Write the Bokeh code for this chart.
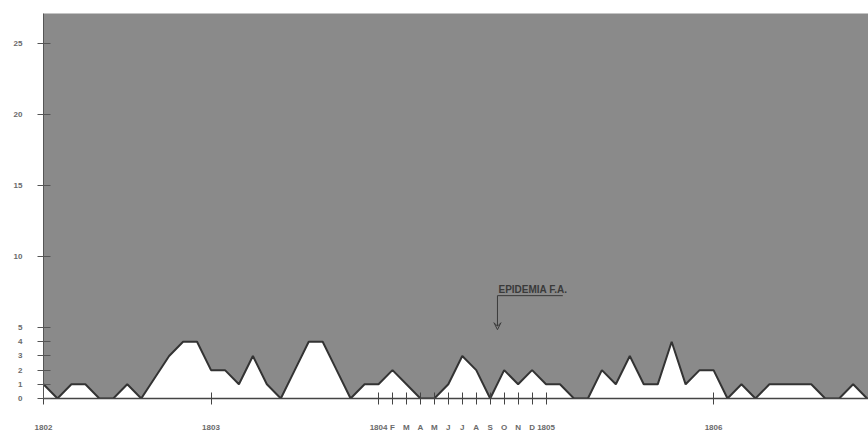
from bokeh.plotting import figure
from bokeh.models import Range1d, FixedTicker, Label, Arrow, VeeHead, ColumnDataSource
from bokeh.embed import file_html
from bokeh.resources import INLINE

# ---- data: monthly counts, Jan 1802 .. Dec 1806 ----
cases_1802 = [1, 0, 1, 1, 0, 0, 1, 0, 1.5, 3, 4, 4]
cases_1803 = [2, 2, 1, 3, 1, 0, 2, 4, 4, 2, 0, 1]
cases_1804 = [1, 2, 1, 0, 0, 1, 3, 2, 0, 2, 1, 2]
cases_1805 = [1, 1, 0, 0, 2, 1, 3, 1, 1, 4, 1, 2]
cases_1806 = [2, 0, 1, 0, 1, 1, 1, 1, 0, 0, 1, 0]
cases = cases_1802 + cases_1803 + cases_1804 + cases_1805 + cases_1806
months = list(range(len(cases)))

x_ticks = [0, 12, 24, 25, 26, 27, 28, 29, 30, 31, 32, 33, 34, 35, 36, 48]
x_tick_labels = ["1802", "1803", "1804", "F", "M", "A", "M", "J", "J", "A",
                 "S", "O", "N", "D", "1805", "1806"]
y_ticks = [0, 1, 2, 3, 4, 5, 10, 15, 20, 25]

annotation_text = "EPIDEMIA F.A."
annotation_month = 32.52
annotation_level = 7.25
annotation_end_month = 37.2
arrow_tip_level = 4.85

# ---- figure ----
p = figure(width=868, height=434, output_backend="svg", toolbar_location=None,
           x_range=Range1d(0, 59.1), y_range=Range1d(0, 27.14),
           min_border_left=43, min_border_right=0, min_border_top=13,
           min_border_bottom=31)
p.background_fill_color = "#8a8a8a"
p.border_fill_color = "white"
p.outline_line_color = None
p.grid.visible = False

src = ColumnDataSource(dict(x=months, y=cases, z=[0] * len(cases)))
p.varea(x="x", y1="z", y2="y", source=src, fill_color="white")
p.line("x", "y", source=src, line_color="#333333", line_width=2)

# x axis
p.xaxis.ticker = FixedTicker(ticks=x_ticks)
p.xaxis.major_label_overrides = {t: l for t, l in zip(x_ticks, x_tick_labels)}
p.xaxis.axis_line_color = "#444444"
p.xaxis.axis_line_width = 1.5
p.xaxis.major_tick_line_color = "#444444"
p.xaxis.major_tick_in = 6
p.xaxis.major_tick_out = 6
p.xaxis.minor_tick_line_color = None
p.xaxis.major_label_standoff = 18
p.xaxis.major_label_text_font = "Liberation Sans"
p.xaxis.major_label_text_font_size = "8px"
p.xaxis.major_label_text_font_style = "bold"
p.xaxis.major_label_text_color = "#6a6a6a"

# y axis
p.yaxis.ticker = FixedTicker(ticks=y_ticks)
p.yaxis.axis_line_color = "#555555"
p.yaxis.major_tick_line_color = "#555555"
p.yaxis.major_tick_in = 7
p.yaxis.major_tick_out = 6
p.yaxis.minor_tick_line_color = None
p.yaxis.major_label_standoff = 15
p.yaxis.major_label_text_font = "Liberation Sans"
p.yaxis.major_label_text_font_size = "8px"
p.yaxis.major_label_text_font_style = "bold"
p.yaxis.major_label_text_color = "#6a6a6a"

# annotation
p.add_layout(Label(x=annotation_month, y=annotation_level, text=annotation_text,
                   x_offset=1, y_offset=1, text_font="Liberation Sans",
                   text_font_size="10px", text_font_style="bold",
                   text_color="#3a3a3a"))
p.segment(x0=[annotation_month], y0=[annotation_level],
          x1=[annotation_end_month], y1=[annotation_level],
          line_color="#3a3a3a", line_width=1)
p.add_layout(Arrow(end=VeeHead(size=7, line_color="#3a3a3a", line_width=1,
                               fill_color=None),
                   x_start=annotation_month, y_start=annotation_level,
                   x_end=annotation_month, y_end=arrow_tip_level,
                   line_color="#3a3a3a", line_width=1))

open("out.html", "w").write(file_html(p, INLINE))
